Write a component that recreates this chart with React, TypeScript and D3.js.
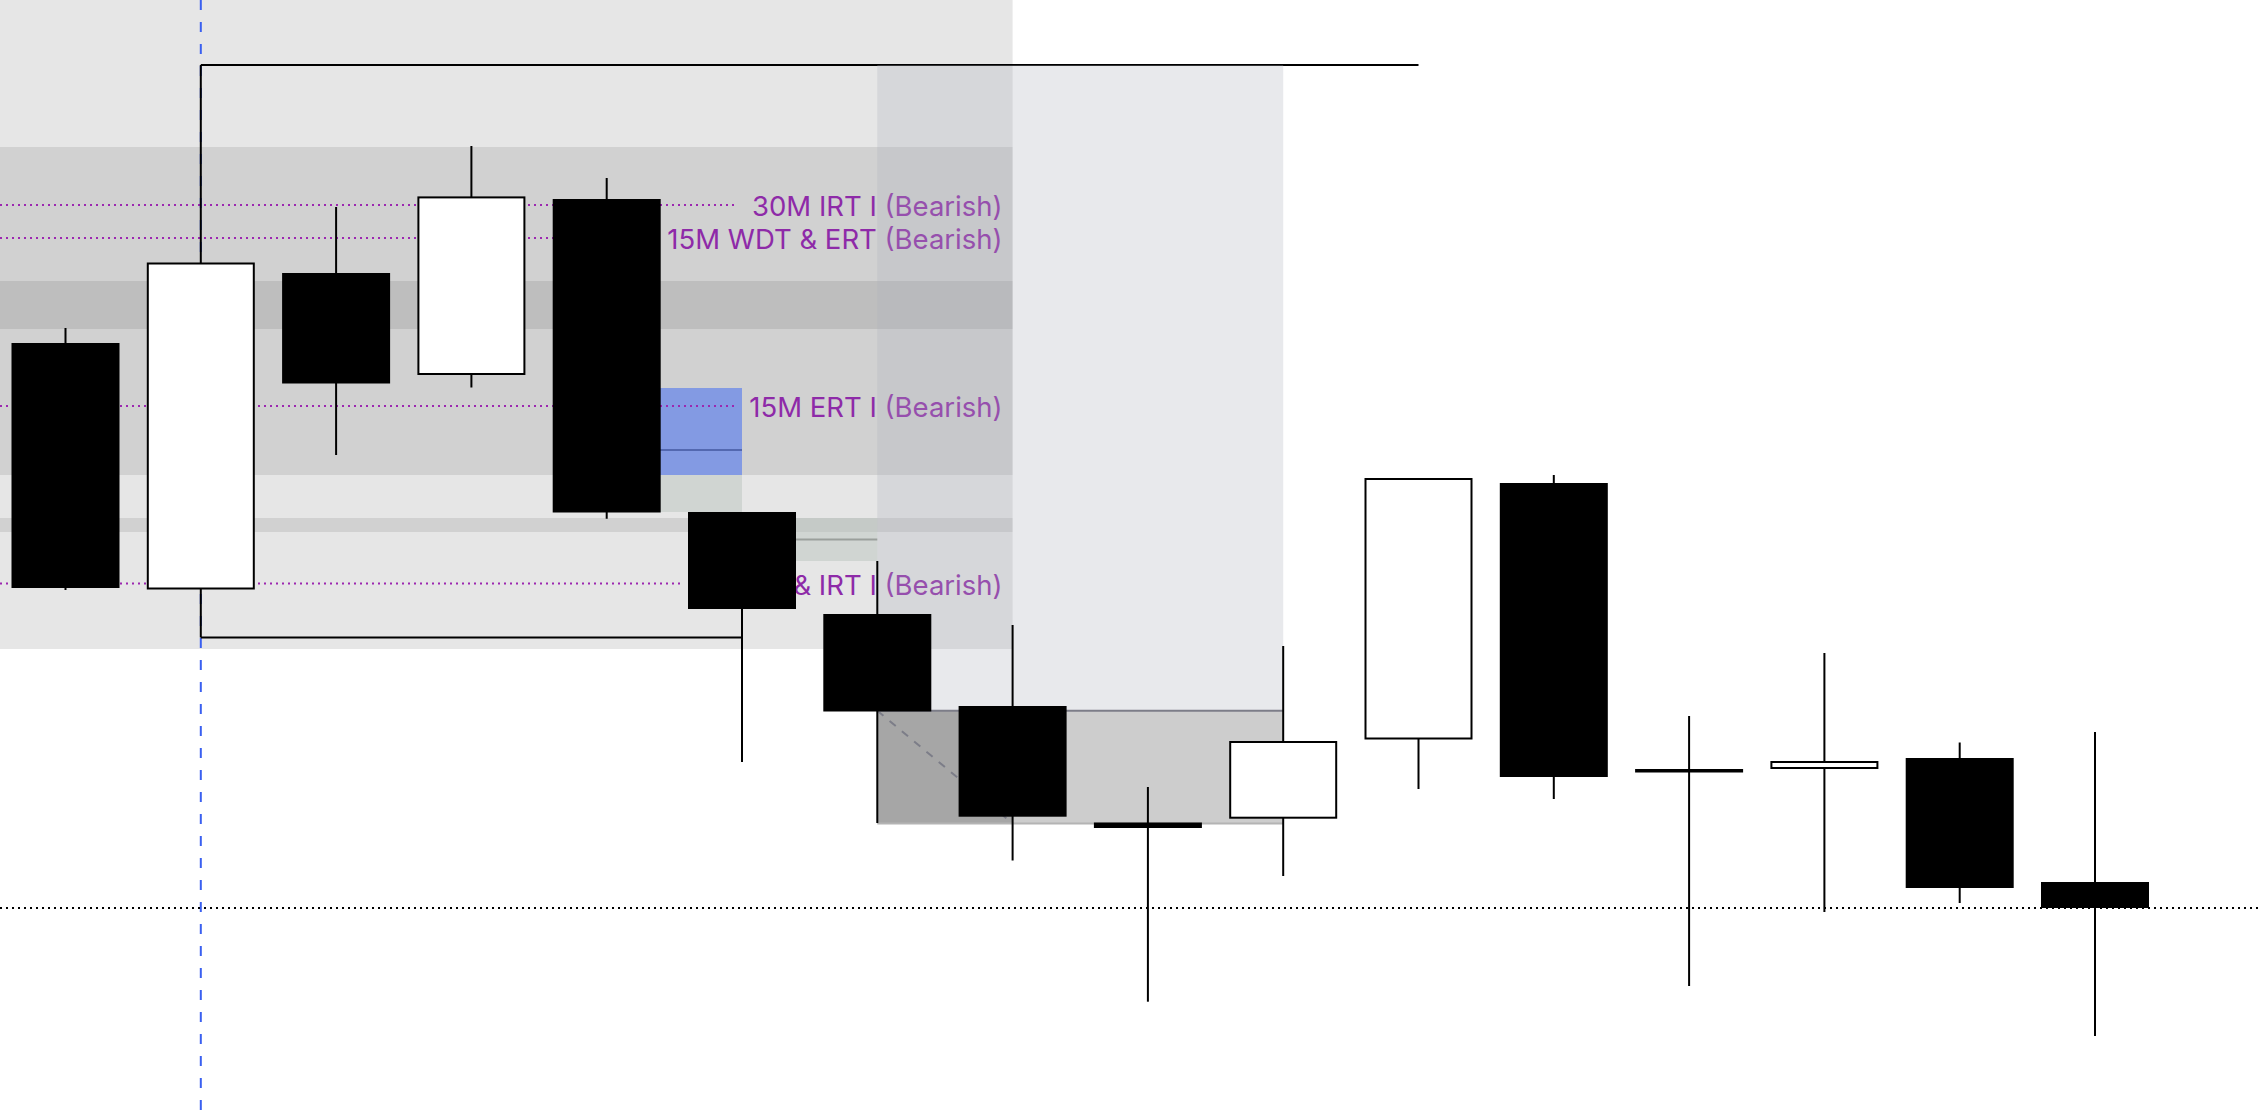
import React, { useEffect, useRef } from "react";
import * as d3 from "d3";

const W = 2260;
const H = 1118;

// ---- data (price units, no axis shown in the reference) ----
const candleIndex = d3.range(16);
const opens = [775, 528.5, 845, 743, 919, 606, 504, 412, 295.5, 299.3, 378.5, 635, 349, 349, 360, 236];
const highs = [790, 1053, 911, 972, 940, 606, 557, 493, 331, 472, 640, 643, 402, 465, 375.5, 386];
const lows = [528, 480.5, 663, 730.5, 599.3, 356, 295, 257.5, 116.3, 242, 329, 319, 132, 206, 215, 82];
const closes = [530, 855.5, 734.5, 921.6, 605.5, 509, 406.5, 301.3, 290, 377, 640, 341, 345.5, 357, 230, 210];

// session zone (left grey area) and its bands
const zoneEndIndex = 7;
const zoneBottom = 469;
const bandTops = [971, 837, 600];
const bandBottoms = [789, 643, 586];

// level lines with labels
const levelPrices = [913, 880, 712, 534.5];
const levelLabels = [
  "30M IRT I (Bearish)",
  "15M WDT & ERT (Bearish)",
  "15M ERT I (Bearish)",
  "1H ERT & IRT I (Bearish)",
];

// range high / low rays from candle 1
const rangeIndex = 1;
const rangeHighEnd = 10;
const rangeLowEnd = 5;

// imbalance boxes
const fvgStart = [4, 5];
const fvgEnd = [5, 6];
const fvgTop = [730, 600];
const fvgBottom = [606, 557];
const fvgBlueBottom = 643;

// projection column and target box
const projStart = 6;
const projEnd = 9;
const projTop = 1053;
const targetTop = 407.3;
const targetBottom = 294.5;
const targetSplit = 7;

// horizontal dotted level (last close)
const lastPrice = 210;

export default function App() {
  const ref = useRef<SVGSVGElement | null>(null);

  useEffect(() => {
    document.body.style.margin = "0";
    document.body.style.overflow = "hidden";
    const svg = d3.select(ref.current);
    svg.selectAll("*").remove();

    const x = d3.scaleLinear().domain([0, 15]).range([65.5, 2095]);
    const y = d3.scaleLinear().domain([0, H]).range([H, 0]);
    const bodyW = 108;

    // grey session zone
    const zoneRight = x(zoneEndIndex);
    svg.append("rect")
      .attr("x", 0).attr("y", 0)
      .attr("width", zoneRight).attr("height", y(zoneBottom))
      .attr("fill", "#e6e6e6");
    bandTops.forEach((t, i) => {
      svg.append("rect")
        .attr("x", 0).attr("y", y(t))
        .attr("width", zoneRight).attr("height", y(bandBottoms[i]) - y(t))
        .attr("fill", "rgba(0,0,0,0.09)");
    });

    // vertical blue dashed marker
    svg.append("line")
      .attr("x1", x(rangeIndex)).attr("x2", x(rangeIndex))
      .attr("y1", 0).attr("y2", H)
      .attr("stroke", "#3a60f0").attr("stroke-width", 2)
      .attr("stroke-dasharray", "10,12");

    // imbalance boxes
    fvgStart.forEach((s, i) => {
      svg.append("rect")
        .attr("x", x(s)).attr("y", y(fvgTop[i]))
        .attr("width", x(fvgEnd[i]) - x(s)).attr("height", y(fvgBottom[i]) - y(fvgTop[i]))
        .attr("fill", "rgba(184,194,188,0.48)");
      if (i === 0) {
        svg.append("rect")
          .attr("x", x(s)).attr("y", y(fvgTop[i]))
          .attr("width", x(fvgEnd[i]) - x(s)).attr("height", y(fvgBlueBottom) - y(fvgTop[i]))
          .attr("fill", "#839ae3");
      }
      const mid = (fvgTop[i] + fvgBottom[i]) / 2;
      svg.append("line")
        .attr("x1", x(s)).attr("x2", x(fvgEnd[i]))
        .attr("y1", y(mid)).attr("y2", y(mid))
        .attr("stroke", i === 0 ? "#5368b0" : "#9a9f9b").attr("stroke-width", 2);
    });

    // level lines + labels
    const labelRight = zoneRight - 10;
    levelPrices.forEach((p, i) => {
      const t = svg.append("text")
        .attr("x", labelRight).attr("y", y(p) + 3.5)
        .attr("text-anchor", "end")
        .attr("dominant-baseline", "middle")
        .attr("font-family", "Inter, 'Noto Sans', sans-serif")
        .attr("font-size", 27.5)
        .attr("fill", "#8e2aa8")
        .text(levelLabels[i]);
      const len = (t.node() as SVGTextElement).getComputedTextLength();
      svg.insert("line", "text")
        .attr("x1", 0).attr("x2", labelRight - len - 14)
        .attr("y1", y(p)).attr("y2", y(p))
        .attr("stroke", "#9c27b0").attr("stroke-width", 2)
        .attr("stroke-dasharray", "2,4");
    });

    // range rays
    svg.append("line")
      .attr("x1", x(rangeIndex)).attr("x2", x(rangeHighEnd))
      .attr("y1", y(highs[rangeIndex])).attr("y2", y(highs[rangeIndex]))
      .attr("stroke", "#000").attr("stroke-width", 2);
    svg.append("line")
      .attr("x1", x(rangeIndex)).attr("x2", x(rangeLowEnd))
      .attr("y1", y(lows[rangeIndex])).attr("y2", y(lows[rangeIndex]))
      .attr("stroke", "#000").attr("stroke-width", 2);

    // projection column
    svg.append("rect")
      .attr("x", x(projStart)).attr("y", y(projTop))
      .attr("width", x(projEnd) - x(projStart)).attr("height", y(targetTop) - y(projTop))
      .attr("fill", "rgba(173,176,187,0.28)");

    // target box
    svg.append("rect")
      .attr("x", x(projStart)).attr("y", y(targetTop))
      .attr("width", x(projEnd) - x(projStart)).attr("height", y(targetBottom) - y(targetTop))
      .attr("fill", "rgba(0,0,0,0.196)");
    svg.append("rect")
      .attr("x", x(projStart)).attr("y", y(targetTop))
      .attr("width", x(targetSplit) - x(projStart)).attr("height", y(targetBottom) - y(targetTop))
      .attr("fill", "rgba(0,0,0,0.19)");
    svg.append("line")
      .attr("x1", x(projStart)).attr("x2", x(projEnd))
      .attr("y1", y(targetTop)).attr("y2", y(targetTop))
      .attr("stroke", "#7c7d88").attr("stroke-width", 2);
    svg.append("line")
      .attr("x1", x(projStart)).attr("x2", x(projEnd))
      .attr("y1", y(targetBottom)).attr("y2", y(targetBottom))
      .attr("stroke", "#b4b4b4").attr("stroke-width", 2);
    svg.append("line")
      .attr("x1", x(projStart)).attr("x2", x(targetSplit))
      .attr("y1", y(targetTop)).attr("y2", y(targetBottom))
      .attr("stroke", "#7c7d88").attr("stroke-width", 2)
      .attr("stroke-dasharray", "8,8");

    // last price dotted line
    svg.append("line")
      .attr("x1", 0).attr("x2", W)
      .attr("y1", y(lastPrice)).attr("y2", y(lastPrice))
      .attr("stroke", "#000").attr("stroke-width", 2)
      .attr("stroke-dasharray", "2,4");

    // candles
    const g = svg.append("g");
    candleIndex.forEach((i) => {
      const cx = x(i);
      g.append("line")
        .attr("x1", cx).attr("x2", cx)
        .attr("y1", y(highs[i])).attr("y2", y(lows[i]))
        .attr("stroke", "#000").attr("stroke-width", 2);
      const top = Math.max(opens[i], closes[i]);
      const bot = Math.min(opens[i], closes[i]);
      const bull = closes[i] > opens[i];
      if (bull) {
        g.append("rect")
          .attr("x", cx - bodyW / 2 + 1).attr("y", y(top) + 1)
          .attr("width", bodyW - 2).attr("height", Math.max(0, y(bot) - y(top) - 2))
          .attr("fill", "#fff").attr("stroke", "#000").attr("stroke-width", 2);
      } else {
        g.append("rect")
          .attr("x", cx - bodyW / 2).attr("y", y(top))
          .attr("width", bodyW).attr("height", Math.max(2, y(bot) - y(top)))
          .attr("fill", "#000");
      }
    });
  }, []);

  return (
    <svg
      ref={ref}
      width={W}
      height={H}
      style={{ position: "absolute", left: 0, top: 0, background: "#fff", display: "block" }}
    />
  );
}
